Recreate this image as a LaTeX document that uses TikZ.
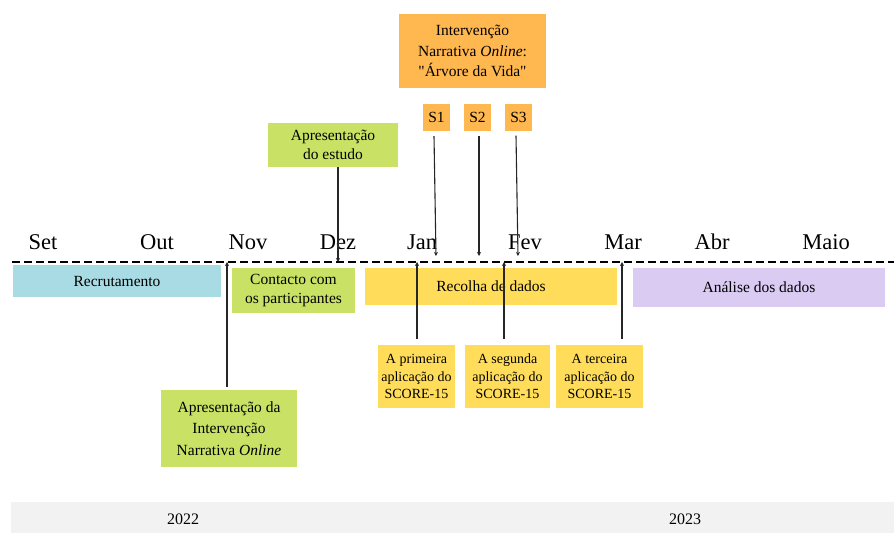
\documentclass[tikz,border=0pt]{standalone}
\usepackage{fontspec}
\setmainfont{Liberation Serif}
\usetikzlibrary{arrows.meta}

\definecolor{laranja}{RGB}{255,183,80}
\definecolor{verde}{RGB}{201,226,101}
\definecolor{azul}{RGB}{168,219,227}
\definecolor{amarelo}{RGB}{255,221,90}
\definecolor{lilas}{RGB}{217,203,242}
\definecolor{cinza}{RGB}{242,242,242}

\begin{document}
\begin{tikzpicture}[
			x=1pt, y=-1pt
			,box/.style={inner sep=0pt, align=center, font=\fontsize{15.5}{19.5}\selectfont}
			,mes/.style={anchor=base, inner sep=0pt, font=\fontsize{22.5}{22.5}\selectfont}
			,ano/.style={inner sep=0pt, font=\fontsize{16}{16}\selectfont}
			,seta/.style={draw=black!85, line width=1.1pt, -{Stealth[length=4pt, width=4pt]}}
		]
			\useasboundingbox (0,0) rectangle (894,533);
			% faixa dos anos
			\fill [cinza] (11,502) rectangle (894,533);
			\node [ano] (a22) at (183,519) {2022};
			\node [ano] (a23) at (685,519) {2023};
			% linha temporal
			\coordinate (ini) at (12,262);
			\coordinate (fim) at (894,262);
			\draw [line width=1.8pt, dash pattern=on 8pt off 4pt] (ini) -- (fim);
			% meses
			\node [mes] (set) at (43,249) {Set};
			\node [mes] (out) at (157,249) {Out};
			\node [mes] (nov) at (248,249) {Nov};
			\node [mes] (dez) at (338,249) {Dez};
			\node [mes] (jan) at (422,249) {Jan};
			\node [mes] (fev) at (525,249) {Fev};
			\node [mes] (mar) at (623,249) {Mar};
			\node [mes] (abr) at (712,249) {Abr};
			\node [mes] (maio) at (826,249) {Maio};
			% fases
			\node [box, fill=azul, minimum width=208pt, minimum height=32pt] (recr) at (117,281) {Recrutamento};
			\node [box, fill=verde, minimum width=123pt, minimum height=45pt] (contacto) at (293.5,290.5) {Contacto com\\os participantes};
			\node [box, fill=amarelo, minimum width=252pt, minimum height=37pt] (recolha) at (491,286.5) {Recolha de dados};
			\node [box, fill=lilas, minimum width=252pt, minimum height=39pt] (analise) at (759,287.5) {Análise dos dados};
			% intervencao e sessoes
			\node [box, fill=laranja, minimum width=147pt, minimum height=74pt, font=\fontsize{15.5}{20.5}\selectfont] (interv) at (472.5,51) {Intervenção\\Narrativa \textit{Online}:\\\textquotedbl Árvore da Vida\textquotedbl};
			\node [box, fill=laranja, minimum size=27pt] (s1) at (436.5,117.5) {S1};
			\node [box, fill=laranja, minimum size=27pt] (s2) at (477.5,117.5) {S2};
			\node [box, fill=laranja, minimum size=27pt] (s3) at (518.5,117) {S3};
			% apresentacoes
			\node [box, fill=verde, minimum width=130pt, minimum height=44pt] (estudo) at (333,145) {Apresentação\\do estudo};
			\node [box, fill=verde, minimum width=136pt, minimum height=77pt, font=\fontsize{15.5}{21.5}\selectfont] (apint) at (229,428.5) {Apresentação da\\Intervenção\\Narrativa \textit{Online}};
			% aplicacoes do SCORE-15
			\node [box, fill=amarelo, minimum width=77pt, minimum height=63pt, font=\fontsize{14}{17.5}\selectfont] (score1) at (416.5,376.5) {A primeira\\aplicação do\\SCORE-15};
			\node [box, fill=amarelo, minimum width=85pt, minimum height=63pt, font=\fontsize{14}{17.5}\selectfont] (score2) at (507.5,376.5) {A segunda\\aplicação do\\SCORE-15};
			\node [box, fill=amarelo, minimum width=87pt, minimum height=63pt, font=\fontsize{14}{17.5}\selectfont] (score3) at (599.5,376.5) {A terceira\\aplicação do\\SCORE-15};
			% pontos na linha
			\coordinate (p1) at (436,256);
			\coordinate (p2) at (479,256);
			\coordinate (p3) at (518,256);
			\coordinate (pe) at (338,262);
			\coordinate (pa) at (227,262);
			\coordinate (q1) at (417,262);
			\coordinate (q2) at (504,262);
			\coordinate (q3) at (622,262);
			% ligacoes
			\draw [seta] ([xshift=-2.5pt, yshift=-5pt]s1.south) -- (p1);
			\draw [seta] ([xshift=1.5pt, yshift=-5pt]s2.south) -- (p2);
			\draw [seta] ([xshift=-2.5pt, yshift=-5pt]s3.south) -- (p3);
			\draw [seta] (estudo.south -| pe) -- (pe);
			\draw [seta] ([yshift=3pt]apint.north -| pa) -- (pa);
			\draw [seta] ([yshift=6pt]score1.north -| q1) -- (q1);
			\draw [seta] ([yshift=6pt]score2.north -| q2) -- (q2);
			\draw [seta] ([yshift=6pt]score3.north -| q3) -- (q3);
		\end{tikzpicture}
\end{document}
